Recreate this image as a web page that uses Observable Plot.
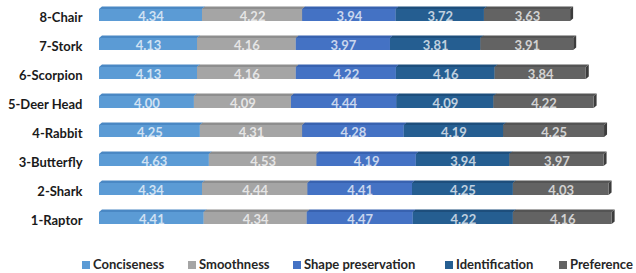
<!DOCTYPE html>
<html>
<head>
<meta charset="utf-8">
<script src="https://cdn.jsdelivr.net/npm/d3@7"></script>
<script src="https://cdn.jsdelivr.net/npm/@observablehq/plot@0.6"></script>
<style>
  html, body { margin: 0; padding: 0; background: #fff; }
  #wrap { position: relative; width: 636px; height: 273px; font-family: Lato, "Open Sans", sans-serif; }
  #legend { position: absolute; left: 0; top: 256px; width: 636px; height: 16px; }
  .item { position: absolute; top: 0; height: 16px; line-height: 16px; font-size: 13px; font-weight: bold; color: #262626; white-space: nowrap; }
  .sw { display: inline-block; width: 8px; height: 8px; margin-right: 3px; vertical-align: 0px; }
</style>
</head>
<body>
<div id="wrap"><div id="chart"></div><div id="legend"></div></div>
<script>
const categories = ["8-Chair","7-Stork","6-Scorpion","5-Deer Head","4-Rabbit","3-Butterfly","2-Shark","1-Raptor"];
const seriesNames = ["Conciseness","Smoothness","Shape preservation","Identification","Preference"];
const conciseness    = [4.34, 4.13, 4.13, 4.00, 4.25, 4.63, 4.34, 4.41];
const smoothness     = [4.22, 4.16, 4.16, 4.09, 4.31, 4.53, 4.44, 4.34];
const shapePres      = [3.94, 3.97, 4.22, 4.44, 4.28, 4.19, 4.41, 4.47];
const identification = [3.72, 3.81, 4.16, 4.09, 4.19, 3.94, 4.25, 4.22];
const preference     = [3.63, 3.91, 3.84, 4.22, 4.25, 3.97, 4.03, 4.16];
const seriesValues = [conciseness, smoothness, shapePres, identification, preference];

const frontColors = ["#5B9BD5", "#A5A5A5", "#4472C4", "#255E91", "#636363"];
const topColors   = ["#4A88C4", "#8E8E8E", "#3862B0", "#1D4E7C", "#545454"];
const sideColors  = ["#3F77AD", "#7E7E7E", "#2F54A0", "#173F66", "#3C3C3C"];
const legendX = [82, 188, 293, 445, 559];

const data = [];
seriesNames.forEach((s, si) => categories.forEach((c, ci) => data.push({cat: c, series: s, si, value: seriesValues[si][ci]})));

const DX = 3, DY = 2.6;
function face(kind) {
  return (index, scales, values, dimensions, context, next) => {
    const g = next(index, scales, values, dimensions, context);
    for (const r of Array.from(g.querySelectorAll("rect"))) {
      const x = +r.getAttribute("x"), y = +r.getAttribute("y"), w = +r.getAttribute("width"), h = +r.getAttribute("height");
      const p = document.createElementNS("http://www.w3.org/2000/svg", "path");
      const d = kind === "top"
        ? `M${x},${y}L${x + DX},${y - DY}L${x + w + DX},${y - DY}L${x + w},${y}Z`
        : `M${x + w},${y}L${x + w + DX},${y - DY}L${x + w + DX},${y + h - DY}L${x + w},${y + h}Z`;
      for (const a of Array.from(r.attributes)) if (!["x", "y", "width", "height"].includes(a.name)) p.setAttribute(a.name, a.value);
      p.setAttribute("d", d);
      r.replaceWith(p);
    }
    return g;
  };
}

const stack = (extra) => Plot.stackX({x: "value", y: "cat", z: "series", order: seriesNames, ...extra});

const chart = Plot.plot({
  width: 636,
  height: 248,
  marginLeft: 99,
  marginRight: 3,
  marginTop: 8.5,
  marginBottom: 23.5,
  style: {fontFamily: "Lato, 'Open Sans', sans-serif", background: "#fff"},
  x: {domain: [0, 22.5], axis: null},
  y: {domain: categories, paddingInner: 0.59, paddingOuter: 0, axis: null},
  color: {type: "identity"},
  marks: [
    Plot.barX(data, stack({fill: d => sideColors[d.si], render: face("side")})),
    Plot.barX(data, stack({fill: d => topColors[d.si], render: face("top")})),
    Plot.barX(data, stack({fill: d => frontColors[d.si]})),
    Plot.text(data, stack({text: d => d.value.toFixed(2), fill: "#fff", fillOpacity: 0.72, fontSize: 13, fontWeight: "bold", dy: 1})),
    Plot.text(categories, {x: 0, y: d => d, text: d => d, dx: -17, dy: 2.5, textAnchor: "end", fontSize: 13, fontWeight: "bold", fill: "#1a1a1a"})
  ]
});
document.getElementById("chart").appendChild(chart);

const legend = document.getElementById("legend");
seriesNames.forEach((s, i) => {
  const item = document.createElement("div");
  item.className = "item";
  item.style.left = legendX[i] + "px";
  const sw = document.createElement("span");
  sw.className = "sw";
  sw.style.background = frontColors[i];
  item.appendChild(sw);
  item.appendChild(document.createTextNode(s));
  legend.appendChild(item);
});
</script>
</body>
</html>
